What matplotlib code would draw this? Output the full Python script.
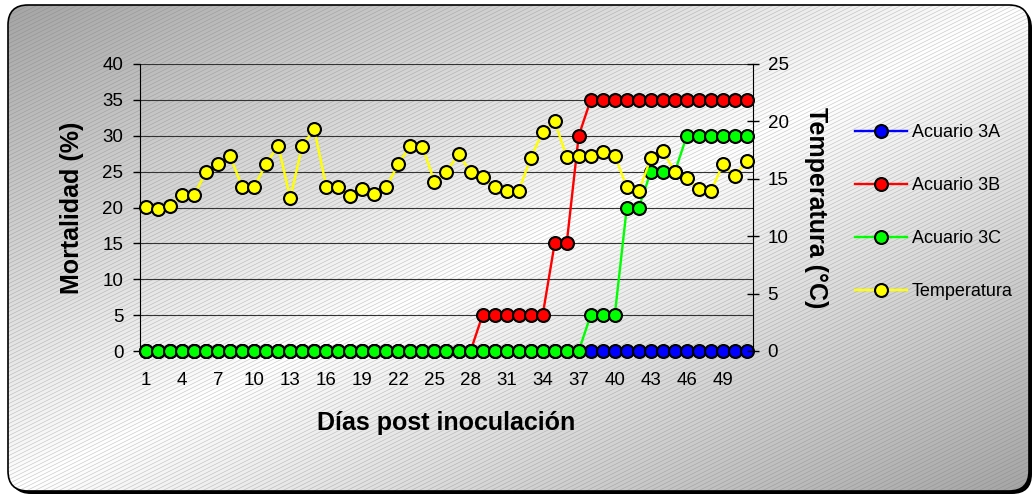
import matplotlib.pyplot as plt
import numpy as np
from matplotlib.patches import FancyBboxPatch
from matplotlib.collections import LineCollection
from matplotlib.lines import Line2D

plt.rcParams['font.family'] = ['Liberation Sans', 'DejaVu Sans']

days = list(range(1, 52))
acuario_3a = [0, 0, 0, 0, 0, 0, 0, 0, 0, 0, 0, 0, 0, 0, 0, 0, 0, 0, 0, 0,
              0, 0, 0, 0, 0, 0, 0, 0, 0, 0, 0, 0, 0, 0, 0, 0, 0, 0, 0, 0,
              0, 0, 0, 0, 0, 0, 0, 0, 0, 0, 0]
acuario_3b = [0, 0, 0, 0, 0, 0, 0, 0, 0, 0, 0, 0, 0, 0, 0, 0, 0, 0, 0, 0,
              0, 0, 0, 0, 0, 0, 0, 0, 5, 5, 5, 5, 5, 5, 15, 15, 30, 35, 35, 35,
              35, 35, 35, 35, 35, 35, 35, 35, 35, 35, 35]
acuario_3c = [0, 0, 0, 0, 0, 0, 0, 0, 0, 0, 0, 0, 0, 0, 0, 0, 0, 0, 0, 0,
              0, 0, 0, 0, 0, 0, 0, 0, 0, 0, 0, 0, 0, 0, 0, 0, 0, 5, 5, 5,
              20, 20, 25, 25, 25, 30, 30, 30, 30, 30, 30]
temperatura = [12.5, 12.35, 12.65, 13.6, 13.6, 15.6, 16.3, 16.95, 14.3, 14.3,
               16.3, 17.9, 13.3, 17.9, 19.3, 14.3, 14.3, 13.5, 14.15, 13.7,
               14.3, 16.3, 17.9, 17.8, 14.75, 15.6, 17.15, 15.6, 15.15, 14.25,
               13.9, 13.9, 16.8, 19.1, 20.0, 16.9, 16.95, 17.0, 17.3, 17.0,
               14.3, 13.9, 16.8, 17.45, 15.6, 15.1, 14.1, 13.9, 16.3, 15.25, 16.55]
tick_days = days[::3]

W, H = 1035, 497
fig = plt.figure(figsize=(W / 100, H / 100), dpi=100)
fig.patch.set_facecolor('white')

# background: rounded frame with diagonal gradient and fine hatch
bg = fig.add_axes([0, 0, 1, 1], zorder=-1)
bg.set_xlim(0, W)
bg.set_ylim(H, 0)
bg.axis('off')

shadow = FancyBboxPatch((11, 8), 1021, 486, boxstyle='round,pad=0,rounding_size=20',
                        fc='black', ec='black', lw=0)
bg.add_patch(shadow)
frame = FancyBboxPatch((8, 5), 1021, 486, boxstyle='round,pad=0,rounding_size=20',
                       fc='none', ec='black', lw=1.2, zorder=3)
bg.add_patch(frame)

xx, yy = np.meshgrid(np.linspace(0, 1, 400), np.linspace(0, 1, 200))
t = xx + yy
grad = 1.0 - 0.36 * np.abs(t - 1)
img = bg.imshow(grad, cmap='gray', vmin=0, vmax=1, extent=(0, W, H, 0),
                aspect='auto', zorder=1)
img.set_clip_path(frame)

segs = [[(0, c), (W, c - 0.5 * W)] for c in np.arange(0, H + 0.5 * W + 4, 4)]
hatch = LineCollection(segs, colors=[(0.45, 0.45, 0.45, 0.35)], linewidths=0.5, zorder=2)
bg.add_collection(hatch)
hatch.set_clip_path(frame)

# main chart
ax = fig.add_axes([140 / W, 1 - 351 / H, 613 / W, 287 / H])
ax.patch.set_alpha(0)
ax2 = ax.twinx()

mk = dict(marker='o', markersize=9.3, markeredgecolor='black', markeredgewidth=1.5,
          linewidth=1.7, clip_on=False)
ax.plot(days, acuario_3a, color='#0000ff', markerfacecolor='#0000ff', label='Acuario 3A', zorder=3, **mk)
ax.plot(days, acuario_3b, color='#ff0000', markerfacecolor='#ff0000', label='Acuario 3B', zorder=4, **mk)
ax.plot(days, acuario_3c, color='#00ff00', markerfacecolor='#00ff00', label='Acuario 3C', zorder=5, **mk)
ax2.plot(days, temperatura, color='#ffff00', markerfacecolor='#ffff00', label='Temperatura', **mk)

ax.set_xlim(0.5, 51.5)
ax.set_ylim(0, 40)
ax.set_yticks(range(0, 41, 5))
ax2.set_ylim(0, 25)
ax2.set_yticks(range(0, 26, 5))
ax.set_xticks(tick_days)
ax.set_xticklabels([str(d) for d in tick_days])

ax.grid(axis='y', color='#333333', linewidth=0.8)
ax.set_axisbelow(True)

ax.tick_params(axis='x', length=0, pad=15, labelsize=13.5)
ax.tick_params(axis='y', direction='out', length=5, width=1, pad=7, labelsize=13.5)
ax2.tick_params(axis='y', direction='inout', length=9, width=1, pad=6, labelsize=13.5)

for a in (ax, ax2):
    a.spines['top'].set_visible(False)
ax2.spines['left'].set_visible(False)
ax2.spines['bottom'].set_visible(False)
ax.spines['right'].set_visible(False)

ax.set_xlabel('Días post inoculación', fontsize=18, fontweight='bold')
ax.xaxis.set_label_coords(0.5, -0.251)
ax.xaxis.label.set_va('center')
ax.set_ylabel('Mortalidad (%)', fontsize=18, fontweight='bold')
ax.yaxis.set_label_coords(-0.111, 0.5)
ax.yaxis.label.set_va('center')
ax2.set_ylabel('Temperatura (°C)', fontsize=18, fontweight='bold', rotation=-90)
ax2.yaxis.set_label_coords(1.1028, 0.5)
ax2.yaxis.label.set_va('center')

colors = ['#0000ff', '#ff0000', '#00ff00', '#ffff00']
handles = [Line2D([], [], color=c, marker='o', markerfacecolor=c, markeredgecolor='black',
                  markeredgewidth=1.5, markersize=9.3, linewidth=1.7) for c in colors]
fig.legend(handles, ['Acuario 3A', 'Acuario 3B', 'Acuario 3C', 'Temperatura'],
           loc='center left', bbox_to_anchor=(855 / W, 1 - 212 / H), frameon=False,
           fontsize=13, handlelength=2.9, handletextpad=0.25, labelspacing=2.0,
           borderpad=0, borderaxespad=0)

fig.savefig('out.png', dpi=100)
